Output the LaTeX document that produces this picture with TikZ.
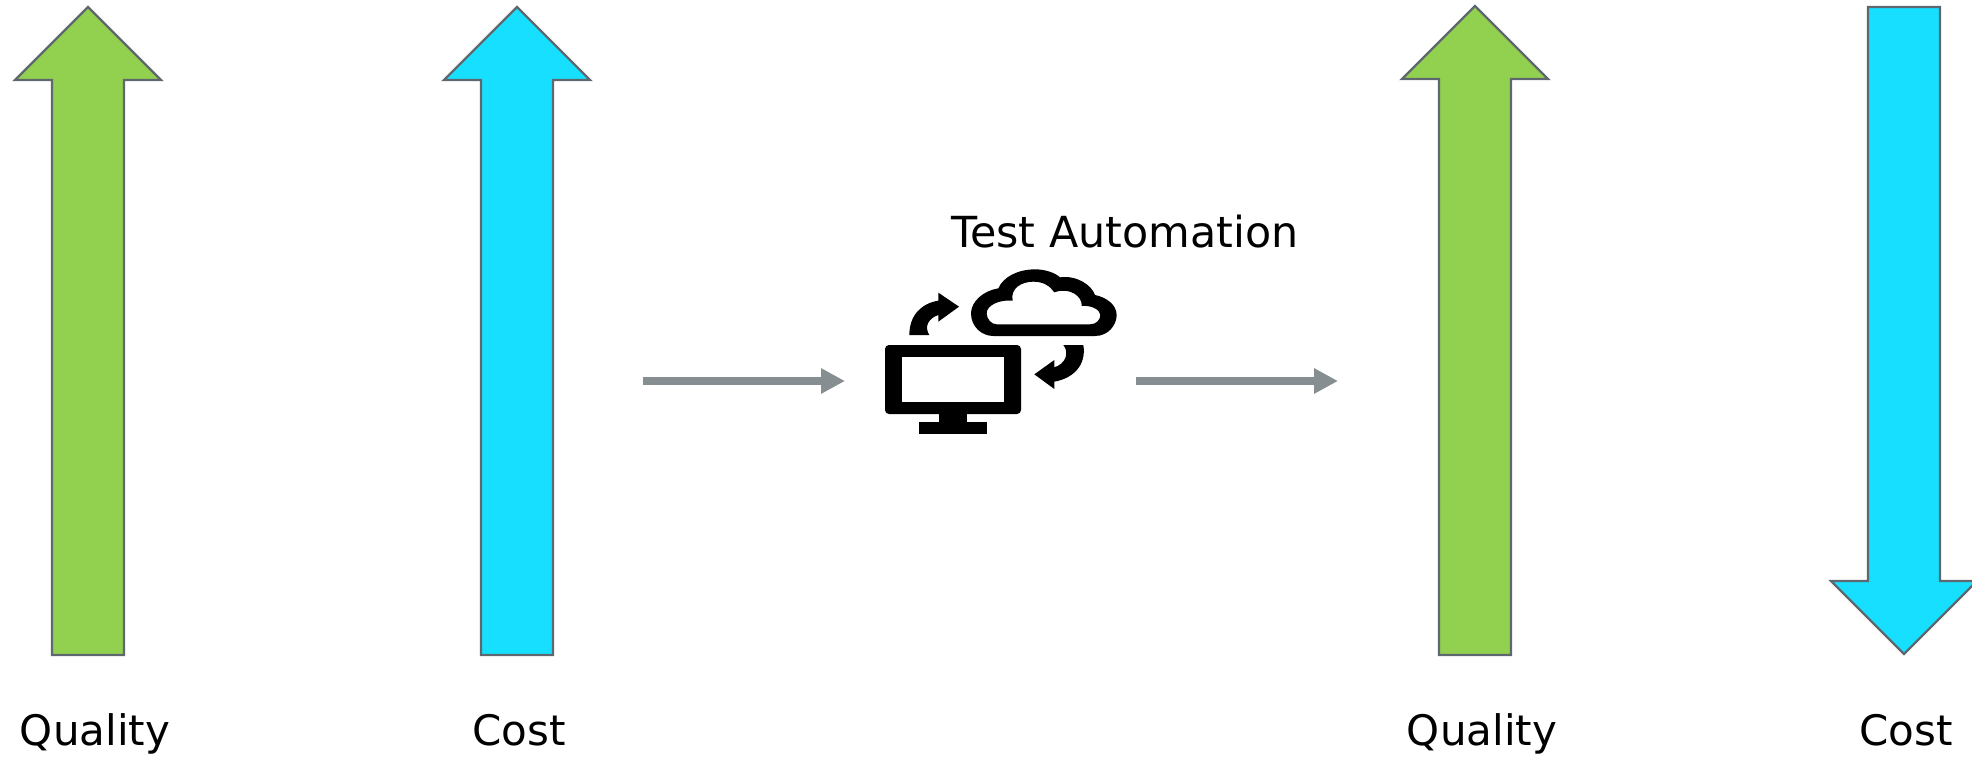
\documentclass[tikz,border=0pt]{standalone}
\usepackage{fontspec}
\setmainfont{DejaVu Sans}
\usepackage{tikz}
\usetikzlibrary{arrows.meta}
\definecolor{qualitygreen}{HTML}{92D050}
\definecolor{costblue}{HTML}{17DFFF}
\definecolor{edgegray}{HTML}{5F686E}
\definecolor{flowgray}{HTML}{868E91}
\tikzset{
  blockarrow/.style={draw=edgegray, line width=2.4pt, miter limit=10},
  flowarrow/.style={draw=flowgray, line width=7.6pt, -{Triangle[length=24pt,width=24pt]}},
  caption/.style={anchor=base, inner sep=0pt, font=\fontsize{42}{48}\selectfont},
  iconpart/.style={fill=black, draw=none}
}
\begin{document}
\begin{tikzpicture}[x=1pt, y=-1pt]
  \useasboundingbox (0,0) rectangle (1972,756);
  % rising arrows
  \foreach \x/\t/\colr in {88/7/qualitygreen, 517/7/costblue, 1475/6/qualitygreen}
    \draw[blockarrow, fill=\colr] (\x,\t) -- ++(73,73) -- ++(-37,0) -- (\x+36,655) -- (\x-36,655) -- (\x-36,\t+73) -- ++(-37,0) -- cycle;
  % falling arrow
  \draw[blockarrow, fill=costblue] (1904,654) -- (1831,581) -- (1868,581) -- (1868,7) -- (1940,7) -- (1940,581) -- (1977,581) -- cycle;
  \node[caption] (qualityA) at (95,745) {Quality};
  \node[caption] (costA) at (519,745) {Cost};
  \node[caption] (qualityB) at (1482,745) {Quality};
  \node[caption] (costB) at (1906,745) {Cost};
  \node[caption, font=\fontsize{42.8}{48}\selectfont] (automation) at (1125,247) {Test Automation};
  % flow to and from the icon
  \coordinate (flowAstart) at (643,381);
  \coordinate (flowAend) at (845,381);
  \coordinate (flowBstart) at (1136,381);
  \coordinate (flowBend) at (1338,381);
  \draw[flowarrow] (flowAstart) -- (flowAend);
  \draw[flowarrow] (flowBstart) -- (flowBend);
  % monitor
  \fill[iconpart, rounded corners=4pt] (885,345) rectangle (1021,414);
  \fill[white] (902,357) rectangle (1004,402);
  \fill[iconpart] (939,412) rectangle (967,423);
  \fill[iconpart] (919,422) rectangle (987,434);
  % cloud, in crop units
  \begin{scope}[shift={(960,260)}, x=0.3333pt, y=-0.3333pt]
    \fill[iconpart, even odd rule]
      (100,228) -- (405,228) .. controls (445,228) and (470,195) .. (470,165)
      .. controls (470,135) and (440,112) .. (405,105)
      .. controls (395,75) and (350,45) .. (300,52)
      .. controls (285,38) and (255,28) .. (225,28)
      .. controls (175,28) and (130,50) .. (115,85)
      .. controls (70,92) and (33,125) .. (33,160)
      .. controls (33,200) and (65,228) .. (100,228) -- cycle
      (110,193) -- (390,193) .. controls (410,193) and (421,178) .. (421,165)
      .. controls (421,150) and (395,135) .. (365,138)
      .. controls (368,110) and (330,80) .. (283,97)
      .. controls (270,78) and (250,65) .. (220,65)
      .. controls (185,65) and (150,85) .. (158,122)
      .. controls (120,118) and (80,135) .. (80,160)
      .. controls (80,178) and (95,193) .. (110,193) -- cycle;
  \end{scope}
  % turning arrows
  \begin{scope}[shift={(900,280)}, x=0.3333pt, y=-0.3333pt]
    \fill[iconpart] (177,80) -- (115,38) -- (115,62)
      .. controls (65,70) and (28,105) .. (28,165) -- (88,165)
      .. controls (72,140) and (85,115) .. (115,105) -- (115,125) -- cycle;
  \end{scope}
  \begin{scope}[shift={(1025,340)}, x=0.3333pt, y=-0.3333pt]
    \fill[iconpart] (28,103) -- (88,60) -- (88,82)
      .. controls (120,72) and (135,40) .. (115,15) -- (175,15)
      .. controls (185,75) and (145,115) .. (88,125) -- (88,147) -- cycle;
  \end{scope}
\end{tikzpicture}
\end{document}
